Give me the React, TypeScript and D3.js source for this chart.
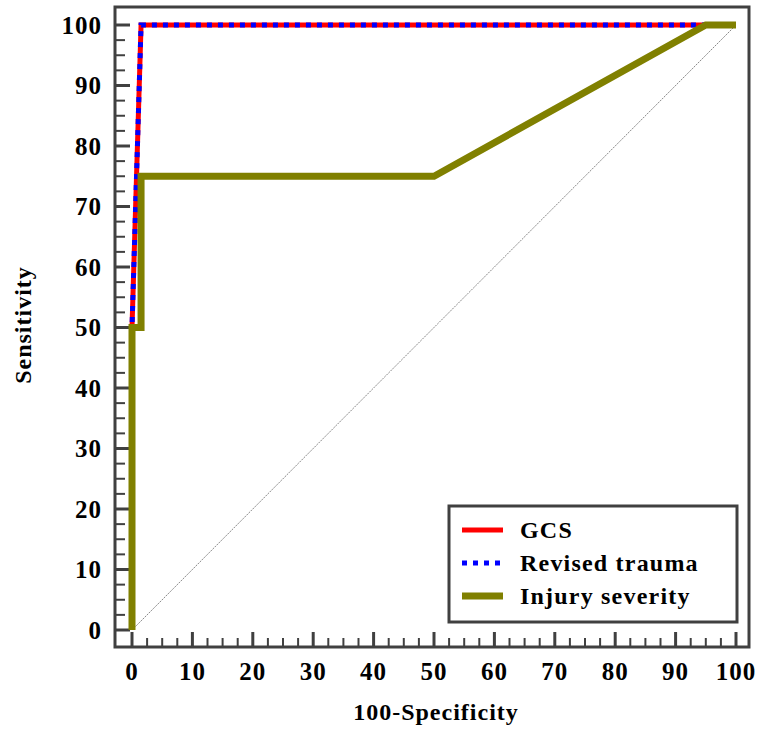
import React from "react";
import * as d3 from "d3";

const gcsX = [0, 0, 1.5, 100];
const gcsY = [0, 50, 100, 100];
const rtX = [0, 0, 1.5, 100];
const rtY = [0, 50, 100, 100];
const issX = [0, 0, 1.5, 1.5, 50, 95, 100];
const issY = [0, 50, 50, 75, 75, 100, 100];
const majorTicks = [0, 10, 20, 30, 40, 50, 60, 70, 80, 90, 100];
const minorTicks = d3.range(0, 100.01, 2.5).filter((v) => v % 10 !== 0);
const legendLabels = ["GCS", "Revised trauma", "Injury severity"];

const FONT = "'Liberation Serif', 'Times New Roman', serif";

export default function App() {
  const x = d3.scaleLinear().domain([0, 100]).range([132, 736]);
  const y = d3.scaleLinear().domain([0, 100]).range([630, 25]);
  const line = (xs: number[], ys: number[]) =>
    d3
      .line<number>()
      .x((_, i) => x(xs[i]))
      .y((_, i) => y(ys[i]))(xs) as string;

  const frame = { x0: 115, y0: 7, x1: 749, y1: 647 };
  const axisColor = "#404040";
  const series = [
    { d: line(gcsX, gcsY), color: "#ff0000", width: 5, dash: undefined as string | undefined },
    { d: line(rtX, rtY), color: "#0000ff", width: 5, dash: "5,6" as string | undefined },
    { d: line(issX, issY), color: "#808000", width: 7, dash: undefined as string | undefined },
  ];

  return (
    <svg width={758} height={729} style={{ position: "absolute", left: 0, top: 0, background: "#fff" }}>
      {/* diagonal */}
      <line x1={x(0)} y1={y(0)} x2={x(100)} y2={y(100)} stroke="#888" strokeWidth={1} strokeDasharray="2,1" />
      {/* frame */}
      <rect x={frame.x0} y={frame.y0} width={frame.x1 - frame.x0} height={frame.y1 - frame.y0} fill="none" stroke={axisColor} strokeWidth={3} />
      {/* y ticks */}
      {majorTicks.map((t) => (
        <g key={"y" + t}>
          <line x1={frame.x0} x2={frame.x0 + 15} y1={y(t)} y2={y(t)} stroke={axisColor} strokeWidth={3} />
          <text x={102} y={y(t)} dy="0.35em" textAnchor="end" fontFamily={FONT} fontWeight="bold" fontSize={25} letterSpacing={1}>
            {t}
          </text>
        </g>
      ))}
      {minorTicks.map((t) => (
        <line key={"ym" + t} x1={frame.x0} x2={frame.x0 + 10} y1={y(t)} y2={y(t)} stroke={axisColor} strokeWidth={2} />
      ))}
      {/* x ticks */}
      {majorTicks.map((t) => (
        <g key={"x" + t}>
          <line x1={x(t)} x2={x(t)} y1={frame.y1} y2={frame.y1 - 15} stroke={axisColor} strokeWidth={3} />
          <text x={x(t)} y={680} textAnchor="middle" fontFamily={FONT} fontWeight="bold" fontSize={25} letterSpacing={1}>
            {t}
          </text>
        </g>
      ))}
      {minorTicks.map((t) => (
        <line key={"xm" + t} x1={x(t)} x2={x(t)} y1={frame.y1} y2={frame.y1 - 9} stroke={axisColor} strokeWidth={2} />
      ))}
      {/* series */}
      <path d={series[0].d} fill="none" stroke={series[0].color} strokeWidth={series[0].width} />
      <path d={series[1].d} fill="none" stroke={series[1].color} strokeWidth={series[1].width} strokeDasharray={series[1].dash} />
      <path d={series[2].d} fill="none" stroke={series[2].color} strokeWidth={series[2].width} strokeLinejoin="miter" />
      {/* axis titles */}
      <text x={436} y={720} textAnchor="middle" fontFamily={FONT} fontWeight="bold" fontSize={24} letterSpacing={1}>
        100-Specificity
      </text>
      <text transform="translate(31,325) rotate(-90)" textAnchor="middle" fontFamily={FONT} fontWeight="bold" fontSize={24} letterSpacing={1}>
        Sensitivity
      </text>
      {/* legend */}
      <rect x={449} y={506} width={288} height={116} fill="#fff" stroke={axisColor} strokeWidth={3} />
      {legendLabels.map((lab, i) => {
        const s = series[i];
        const ly = 530 + i * 33;
        return (
          <g key={lab}>
            <line x1={462} x2={503} y1={ly} y2={ly} stroke={s.color} strokeWidth={s.width} strokeDasharray={s.dash} />
            <text x={520} y={ly} dy="0.35em" fontFamily={FONT} fontWeight="bold" fontSize={24} letterSpacing={1.2}>
              {lab}
            </text>
          </g>
        );
      })}
    </svg>
  );
}
